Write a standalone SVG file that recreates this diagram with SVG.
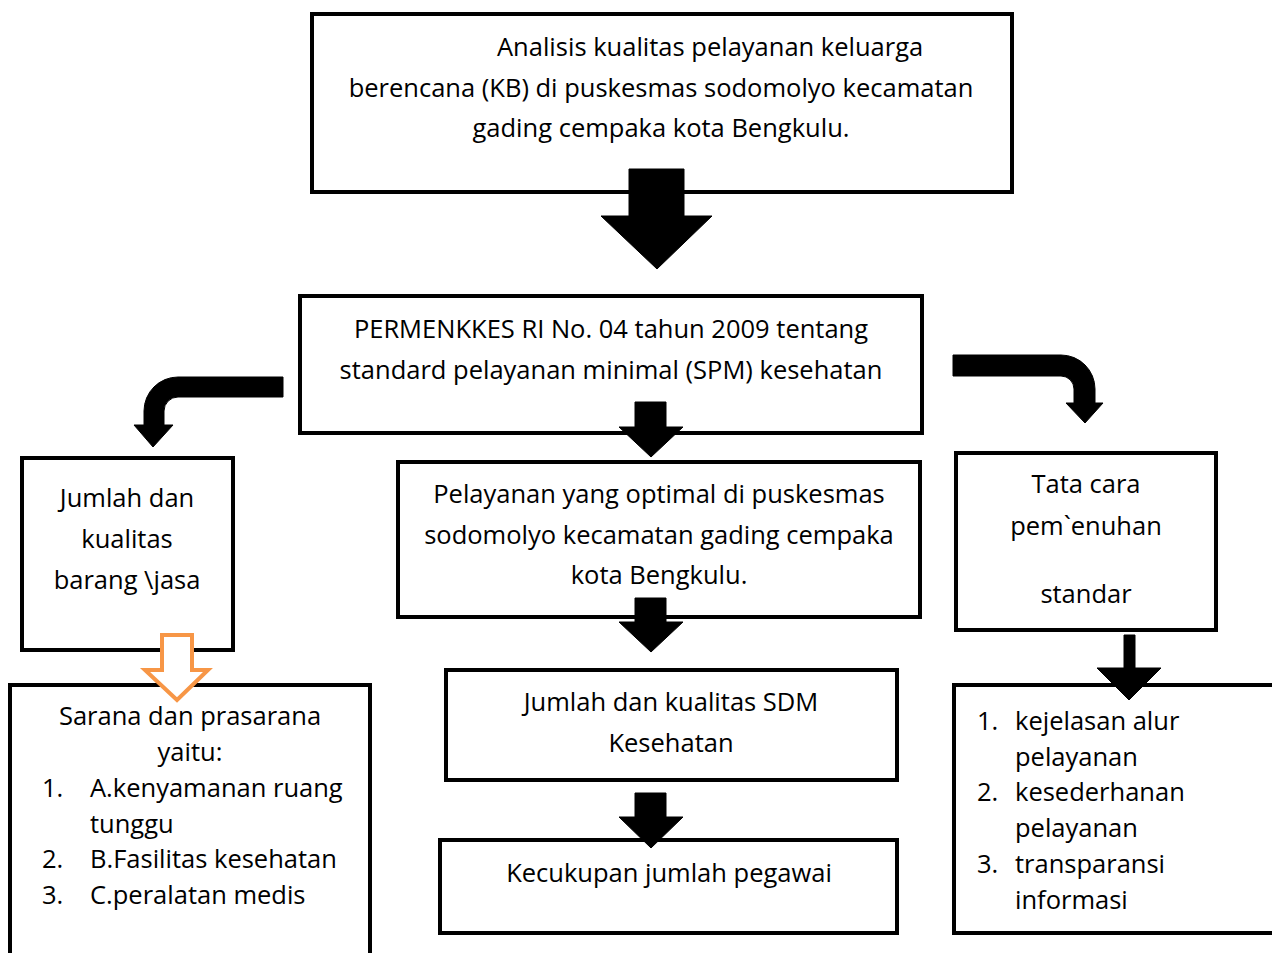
<svg xmlns="http://www.w3.org/2000/svg" width="1272" height="953" viewBox="0 0 1272 953">
<style>
.box{fill:#fff;stroke:#000;stroke-width:4}
.t{font-family:"Open Sans","Liberation Sans",sans-serif;font-size:25.5px;fill:#000}
.c{text-anchor:middle}
.arr{fill:#000;stroke:#000;stroke-width:1;stroke-linejoin:round}
.hol{fill:#fff;stroke:#F79646;stroke-width:4;stroke-linejoin:miter}
</style>
<rect width="1272" height="953" fill="#fff"/>
<g id="node-analisis">
<rect class="box" x="312" y="14" width="700" height="178"/>
<text class="t" x="497" y="56">Analisis kualitas pelayanan keluarga</text>
<text class="t c" x="661" y="97">berencana (KB) di puskesmas sodomolyo kecamatan</text>
<text class="t c" x="661" y="137">gading cempaka kota Bengkulu.</text>
</g>
<g id="node-permenkes">
<rect class="box" x="300" y="296" width="622" height="137"/>
<text class="t c" x="611" y="338">PERMENKKES RI No. 04 tahun 2009 tentang</text>
<text class="t c" x="611" y="379">standard pelayanan minimal (SPM) kesehatan</text>
</g>
<g id="node-barang">
<rect class="box" x="22" y="458" width="211" height="192"/>
<text class="t c" x="127" y="507">Jumlah dan</text>
<text class="t c" x="127" y="548">kualitas</text>
<text class="t c" x="127" y="589">barang \jasa</text>
</g>
<g id="node-pelayanan">
<rect class="box" x="398" y="462" width="522" height="155"/>
<text class="t c" x="659" y="503">Pelayanan yang optimal di puskesmas</text>
<text class="t c" x="659" y="544">sodomolyo kecamatan gading cempaka</text>
<text class="t c" x="659" y="584">kota Bengkulu.</text>
</g>
<g id="node-tatacara">
<rect class="box" x="956" y="453" width="260" height="177"/>
<text class="t c" x="1086" y="493">Tata cara</text>
<text class="t c" x="1086" y="535">pem`enuhan</text>
<text class="t c" x="1086" y="603">standar</text>
</g>
<g id="node-sarana">
<rect class="box" x="10" y="685" width="360" height="280"/>
<text class="t c" x="190" y="725">Sarana dan prasarana</text>
<text class="t c" x="190" y="761">yaitu:</text>
<text class="t" x="42" y="797">1.</text>
<text class="t" x="90" y="797">A.kenyamanan ruang</text>
<text class="t" x="90" y="833">tunggu</text>
<text class="t" x="42" y="868">2.</text>
<text class="t" x="90" y="868">B.Fasilitas kesehatan</text>
<text class="t" x="42" y="904">3.</text>
<text class="t" x="90" y="904">C.peralatan medis</text>
</g>
<g id="node-sdm">
<rect class="box" x="446" y="670" width="451" height="110"/>
<text class="t c" x="671" y="711">Jumlah dan kualitas SDM</text>
<text class="t c" x="671" y="752">Kesehatan</text>
</g>
<g id="node-pegawai">
<rect class="box" x="440" y="840" width="457" height="93"/>
<text class="t c" x="669" y="882">Kecukupan jumlah pegawai</text>
</g>
<g id="node-list">
<rect class="box" x="954" y="685" width="330" height="248"/>
<text class="t" x="977" y="730">1.</text>
<text class="t" x="1015" y="730">kejelasan alur</text>
<text class="t" x="1015" y="766">pelayanan</text>
<text class="t" x="977" y="801">2.</text>
<text class="t" x="1015" y="801">kesederhanan</text>
<text class="t" x="1015" y="837">pelayanan</text>
<text class="t" x="977" y="873">3.</text>
<text class="t" x="1015" y="873">transparansi</text>
<text class="t" x="1015" y="909">informasi</text>
</g>
<g id="connectors">
<polygon class="arr" points="629,169 684,169 684,216 712,216 657,269 601,216 629,216"/>
<path class="arr" d="M283,377 L178,377 A34,34 0 0 0 144,411 L144,425 L134,425 L153,447 L173,425 L164,425 L164,411 A14,14 0 0 1 178,397 L283,397 Z"/>
<path class="arr" d="M953,355 L1061,355 A34,34 0 0 1 1095,389 L1095,403 L1103,403 L1085,423 L1066,403 L1074,403 L1074,389 A13,13 0 0 0 1061,376 L953,376 Z"/>
<polygon class="arr" points="635,402 666,402 666,427 683,427 651,457 619,427 635,427"/>
<polygon class="arr" points="635,598 666,598 666,622 683,622 651,652 619,622 635,622"/>
<polygon class="arr" points="635,793 666,793 666,817 683,817 651,848 619,817 635,817"/>
<polygon class="arr" points="1124,635 1135,635 1135,668 1161,668 1129,700 1097,668 1124,668"/>
<polygon class="hol" points="162,635 192,635 192,670 208,670 177,700 145,670 162,670"/>
</g>
</svg>
